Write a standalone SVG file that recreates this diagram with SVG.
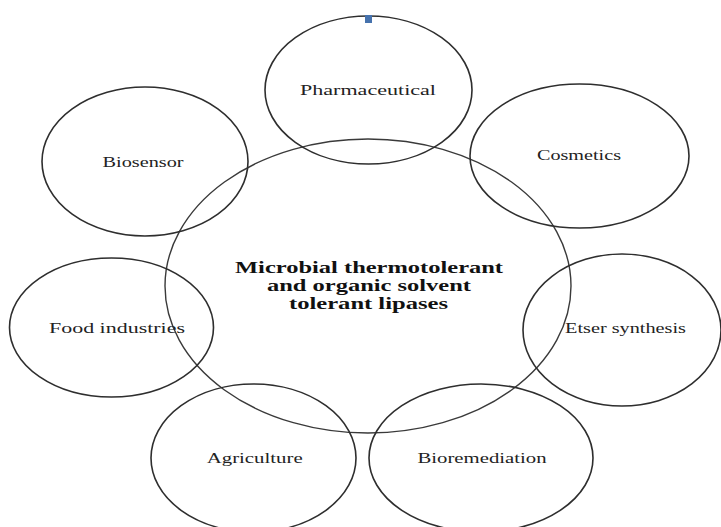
<svg xmlns="http://www.w3.org/2000/svg" width="721" height="527" viewBox="0 0 721 527">
<style>
.ring{fill:none;stroke:#2e2e2e;stroke-width:1.6}
.hub{fill:none;stroke:#3a3a3a;stroke-width:1.4}
text{font-family:'Liberation Serif','Times New Roman','DejaVu Serif',serif}
.lbl{font-size:15px;fill:#222;text-anchor:middle}
.main{font-size:17px;font-weight:bold;fill:#111;text-anchor:middle}
</style>
<rect width="721" height="527" fill="#ffffff"/>
<g id="center">
<ellipse class="hub" cx="368" cy="286" rx="203" ry="147"/>
<text class="main" font-family="Liberation Serif, serif" x="369" y="273" textLength="268" lengthAdjust="spacingAndGlyphs">Microbial thermotolerant</text>
<text class="main" font-family="Liberation Serif, serif" x="369" y="291" textLength="204" lengthAdjust="spacingAndGlyphs">and organic solvent</text>
<text class="main" font-family="Liberation Serif, serif" x="368.5" y="309" textLength="159" lengthAdjust="spacingAndGlyphs">tolerant lipases</text>
</g>
<g id="pharmaceutical">
<ellipse class="ring" cx="368.5" cy="90" rx="103.5" ry="74"/>
<rect x="365" y="15" width="7" height="8" fill="#4672ad"/>
<text class="lbl" font-family="Liberation Serif, serif" x="368" y="95" textLength="136" lengthAdjust="spacingAndGlyphs">Pharmaceutical</text>
</g>
<g id="biosensor">
<ellipse class="ring" cx="145" cy="161.5" rx="103" ry="74.5"/>
<text class="lbl" font-family="Liberation Serif, serif" x="143" y="167" textLength="81" lengthAdjust="spacingAndGlyphs">Biosensor</text>
</g>
<g id="cosmetics">
<ellipse class="ring" cx="579.5" cy="156" rx="109.5" ry="72"/>
<text class="lbl" font-family="Liberation Serif, serif" x="579" y="160" textLength="84" lengthAdjust="spacingAndGlyphs">Cosmetics</text>
</g>
<g id="food-industries">
<ellipse class="ring" cx="111.5" cy="327.5" rx="102" ry="69.5"/>
<text class="lbl" font-family="Liberation Serif, serif" x="117" y="333" textLength="136" lengthAdjust="spacingAndGlyphs">Food industries</text>
</g>
<g id="etser-synthesis">
<ellipse class="ring" cx="622" cy="330" rx="99" ry="76"/>
<text class="lbl" font-family="Liberation Serif, serif" x="625.5" y="333" textLength="121" lengthAdjust="spacingAndGlyphs">Etser synthesis</text>
</g>
<g id="agriculture">
<ellipse class="ring" cx="253.5" cy="458" rx="102.5" ry="74"/>
<text class="lbl" font-family="Liberation Serif, serif" x="254.7" y="463" textLength="96" lengthAdjust="spacingAndGlyphs">Agriculture</text>
</g>
<g id="bioremediation">
<ellipse class="ring" cx="481" cy="458" rx="112" ry="74"/>
<text class="lbl" font-family="Liberation Serif, serif" x="482" y="463" textLength="129" lengthAdjust="spacingAndGlyphs">Bioremediation</text>
</g>
</svg>
